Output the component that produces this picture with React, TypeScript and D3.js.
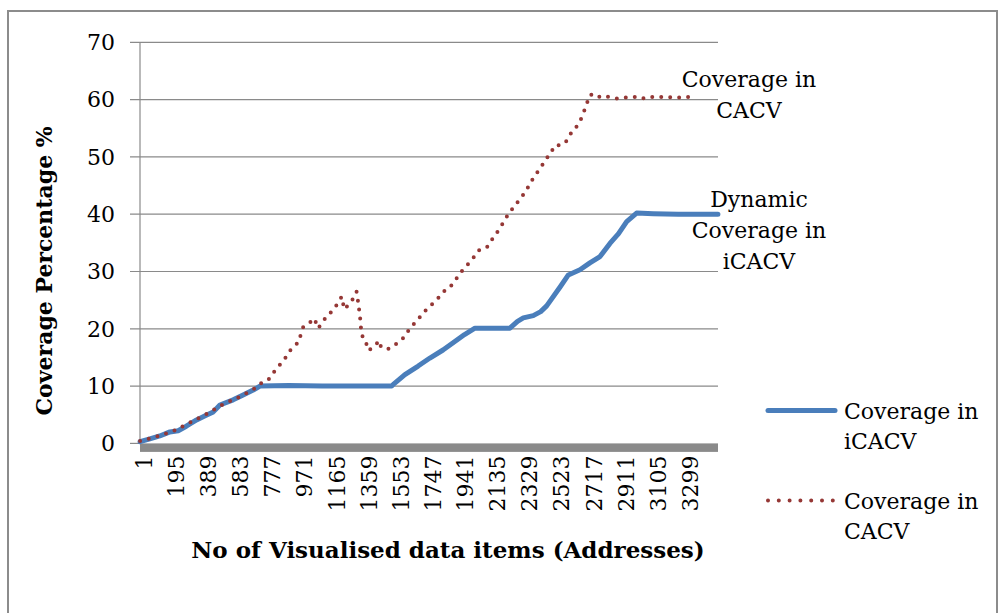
import React, { useEffect, useRef } from "react";
import * as d3 from "d3";

// number of address categories on the x axis
const addressCount = 3490;
const xTickLabels = [1, 195, 389, 583, 777, 971, 1165, 1359, 1553, 1747, 1941, 2135, 2329, 2523, 2717, 2911, 3105, 3299];
const yTicks = [0, 10, 20, 30, 40, 50, 60, 70];

// Coverage in iCACV (solid blue)
const icacvAddr = [1, 60, 120, 181, 231, 280, 342, 400, 443, 483, 563, 620, 684, 725, 900, 1100, 1300, 1520, 1530, 1600, 1680, 1751, 1830, 1912, 1960, 2023, 2234, 2280, 2315, 2375, 2420, 2456, 2537, 2587, 2657, 2717, 2778, 2838, 2890, 2939, 2999, 3100, 3250, 3490];
const icacvValue = [0.3, 0.8, 1.3, 2.0, 2.2, 3.0, 4.1, 4.9, 5.5, 6.7, 7.6, 8.4, 9.3, 10.0, 10.1, 10.0, 10.0, 10.0, 10.3, 12.0, 13.5, 14.9, 16.3, 18.0, 19.0, 20.1, 20.1, 21.3, 21.9, 22.3, 23.0, 24.0, 27.3, 29.4, 30.3, 31.5, 32.6, 34.9, 36.6, 38.7, 40.2, 40.1, 40.0, 40.0];

// Coverage in CACV (dotted red)
const cacvAddr = [1, 100, 200, 300, 400, 500, 600, 684, 725, 775, 825, 866, 916, 956, 986, 1027, 1053, 1077, 1107, 1137, 1167, 1191, 1218, 1234, 1262, 1288, 1308, 1318, 1329, 1335, 1349, 1373, 1383, 1413, 1449, 1455, 1500, 1544, 1580, 1610, 1636, 1667, 1695, 1725, 1757, 1787, 1818, 1848, 1882, 1942, 2003, 2053, 2097, 2124, 2154, 2198, 2224, 2275, 2325, 2375, 2426, 2450, 2482, 2500, 2556, 2586, 2607, 2637, 2663, 2681, 2701, 2717, 2747, 2778, 2808, 2838, 2878, 2939, 3007, 3037, 3079, 3120, 3170, 3241, 3301, 3341];
const cacvValue = [0.4, 1.2, 2.1, 3.6, 5.1, 6.8, 8.1, 9.4, 10.4, 11.1, 13.1, 14.4, 16.6, 17.6, 20.3, 21.1, 21.8, 20.1, 21.4, 22.4, 23.3, 24.3, 25.6, 23.4, 24.3, 25.3, 26.5, 24.6, 22.1, 20.1, 17.9, 17.2, 16.2, 17.0, 17.9, 16.8, 16.5, 17.3, 18.0, 19.2, 20.3, 21.2, 22.2, 23.2, 24.1, 24.9, 25.9, 26.9, 27.6, 30.0, 32.0, 33.9, 34.3, 35.5, 36.7, 38.7, 40.0, 41.9, 43.8, 46.3, 48.4, 49.6, 50.6, 51.9, 52.2, 53.1, 54.4, 55.3, 56.6, 57.9, 59.5, 60.8, 61.0, 60.4, 60.6, 60.4, 60.2, 60.4, 60.5, 60.2, 60.5, 60.4, 60.5, 60.3, 60.5, 60.3];

const seriesNames = ["Coverage in iCACV", "Coverage in CACV"];

const App = () => {
  const width = 999;
  const height = 613;
  const plot = { left: 140, right: 718, top: 42.3, bottom: 443.4 };
  const font = "'DejaVu Serif', serif";

  const svgRef = useRef(null);

  useEffect(() => {
    const svg = d3.select(svgRef.current);
    svg.selectAll("*").remove();

    const x = d3.scaleLinear().domain([0.5, addressCount + 0.5]).range([plot.left, plot.right]);
    const y = d3.scaleLinear().domain([0, 70]).range([plot.bottom, plot.top]);

    // outer frame
    svg.append("rect")
      .attr("x", 8).attr("y", 11)
      .attr("width", 989).attr("height", 612)
      .attr("fill", "white").attr("stroke", "#8c8c8c").attr("stroke-width", 2);

    // gridlines + y ticks
    const grid = svg.append("g").attr("stroke", "#8a8a8a").attr("stroke-width", 1.2);
    yTicks.forEach((t) => {
      grid.append("line")
        .attr("x1", plot.left - 10).attr("x2", t === 0 ? plot.left : plot.right)
        .attr("y1", y(t)).attr("y2", y(t));
    });
    grid.append("line")
      .attr("x1", plot.left).attr("x2", plot.left)
      .attr("y1", y(70)).attr("y2", y(0));

    svg.append("g")
      .attr("font-family", font).attr("font-size", 22).attr("text-anchor", "end")
      .selectAll("text").data(yTicks).join("text")
      .attr("x", plot.left - 25).attr("y", (d) => y(d)).attr("dy", "0.35em")
      .text((d) => d);

    // thick grey category axis
    svg.append("rect")
      .attr("x", plot.left).attr("y", y(0))
      .attr("width", plot.right - plot.left).attr("height", 8.5)
      .attr("fill", "#8a8a8a");

    svg.append("g")
      .attr("font-family", font).attr("font-size", 22).attr("text-anchor", "end")
      .selectAll("text").data(xTickLabels).join("text")
      .attr("transform", (d) => `translate(${x(d) + 4}, ${y(0) + 12}) rotate(-90)`)
      .attr("dy", "0.35em")
      .text((d) => d);

    const line = d3.line().x((d) => x(d[0])).y((d) => y(d[1]));

    svg.append("path")
      .datum(icacvAddr.map((a, i) => [a, icacvValue[i]]))
      .attr("fill", "none").attr("stroke", "#4a7ebb").attr("stroke-width", 5)
      .attr("stroke-linejoin", "round").attr("stroke-linecap", "round")
      .attr("d", line);

    svg.append("path")
      .datum(cacvAddr.map((a, i) => [a, cacvValue[i]]))
      .attr("fill", "none").attr("stroke", "#953735").attr("stroke-width", 4)
      .attr("stroke-linecap", "round").attr("stroke-dasharray", "0 9")
      .attr("d", line);

    // axis titles
    svg.append("text")
      .attr("transform", `translate(52, ${(plot.top + plot.bottom) / 2 + 28}) rotate(-90)`)
      .attr("font-family", font).attr("font-size", 22).attr("font-weight", "bold")
      .attr("text-anchor", "middle")
      .text("Coverage Percentage %");

    svg.append("text")
      .attr("x", 448).attr("y", 558)
      .attr("font-family", font).attr("font-size", 23).attr("font-weight", "bold")
      .attr("text-anchor", "middle")
      .text("No of Visualised data items (Addresses)");

    // in-plot annotations
    const notes = [
      { lines: ["Coverage in", "CACV"], cx: 749, y0: 87 },
      { lines: ["Dynamic", "Coverage in", "iCACV"], cx: 759, y0: 207 },
    ];
    notes.forEach((n) => {
      svg.append("g")
        .attr("font-family", font).attr("font-size", 22).attr("text-anchor", "middle")
        .selectAll("text").data(n.lines).join("text")
        .attr("x", n.cx).attr("y", (d, i) => n.y0 + i * 30.8)
        .text((d) => d);
    });

    // legend
    const legend = svg.append("g").attr("font-family", font).attr("font-size", 22);
    const legendY = [410.5, 500.5];
    seriesNames.forEach((name, i) => {
      const row = legend.append("g");
      row.append("line")
        .attr("x1", 768).attr("x2", 835).attr("y1", legendY[i]).attr("y2", legendY[i])
        .attr("stroke", i === 0 ? "#4a7ebb" : "#953735")
        .attr("stroke-width", i === 0 ? 5 : 4)
        .attr("stroke-linecap", "round")
        .attr("stroke-dasharray", i === 0 ? null : "0 10.8");
      const words = name.split(" ");
      row.append("text").attr("x", 844).attr("y", legendY[i] + 8.5)
        .text(words.slice(0, 2).join(" "));
      row.append("text").attr("x", 844).attr("y", legendY[i] + 38)
        .text(words[2]);
    });
  }, []);

  return (
    <svg
      ref={svgRef}
      width={width}
      height={height}
      style={{ position: "absolute", left: 0, top: 0 }}
    />
  );
};

export default App;
